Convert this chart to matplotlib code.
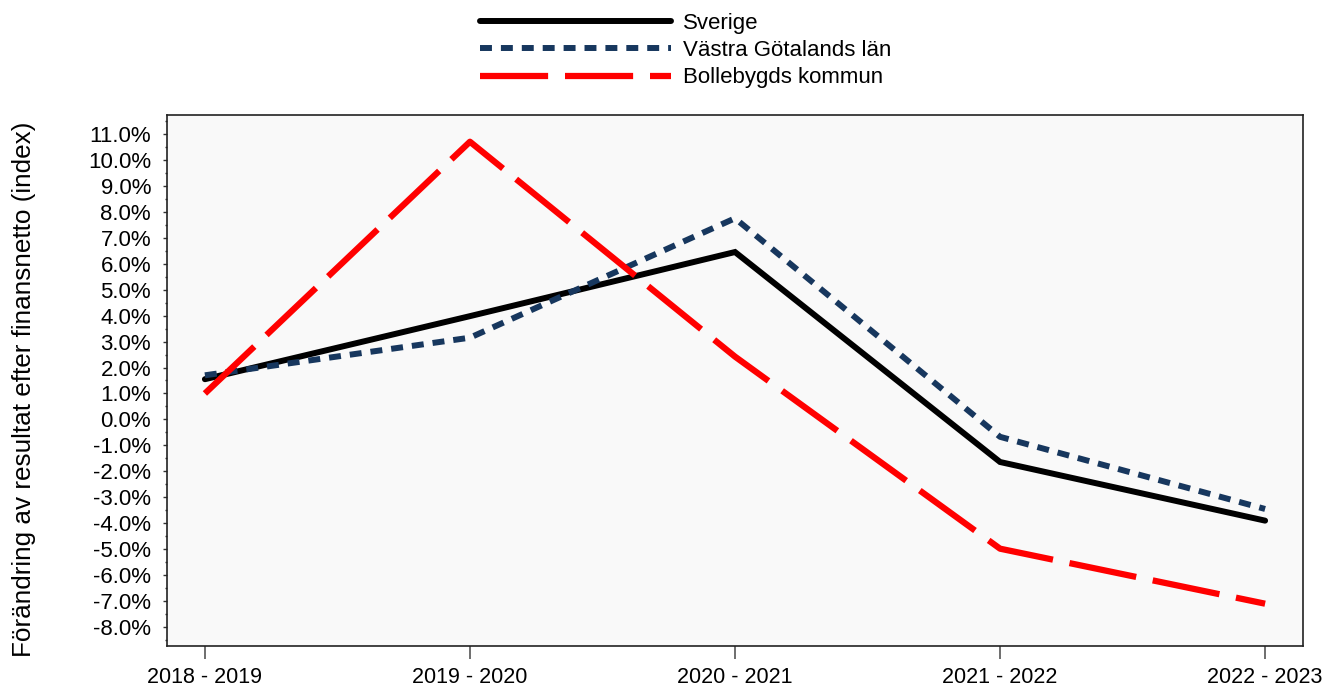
import numpy as np
import matplotlib.pyplot as plt
from matplotlib.ticker import FuncFormatter, MultipleLocator

plt.rcParams['font.family'] = ['Liberation Sans', 'DejaVu Sans']

perioder = ['2018 - 2019', '2019 - 2020', '2020 - 2021', '2021 - 2022', '2022 - 2023']
sverige = [1.55, 3.98, 6.45, -1.64, -3.9]
vastra_gotaland = [1.7, 3.15, 7.75, -0.67, -3.45]
bollebygd = [1.0, 10.7, 2.42, -4.98, -7.1]

def paint():
    fig = plt.figure(figsize=(13.31, 6.96), dpi=100)
    ax = fig.add_axes([167/1331, 1 - 646/696, (1303 - 167)/1331, (646 - 115)/696])
    ax.set_facecolor('#f9f9f9')
    x = np.arange(len(perioder))

    ax.plot(x, sverige, color='black', lw=4.3, solid_capstyle='round',
            solid_joinstyle='miter', label='Sverige')
    ax.plot(x, vastra_gotaland, color='#17375e', lw=4.3, dashes=(2.0, 1.5),
            label='Västra Götalands län')
    ax.plot(x, bollebygd, color='#ff0000', lw=4.5, dashes=(10.9, 2.7),
            label='Bollebygds kommun')

    ax.set_xlim(-0.143, 4.143)
    ax.set_ylim(-8.73, 11.73)
    ax.set_xticks(x)
    ax.set_xticklabels(perioder)
    ax.yaxis.set_major_locator(MultipleLocator(1))
    ax.yaxis.set_minor_locator(MultipleLocator(0.5))
    ax.yaxis.set_major_formatter(FuncFormatter(lambda v, p: f'{v:.1f}%'))

    ax.tick_params(axis='x', length=9.4, width=1.2, color='#555555', pad=6, labelsize=15.5)
    ax.tick_params(axis='y', which='major', length=3, width=1, color='#333333', pad=8.5, labelsize=16)
    ax.tick_params(axis='y', which='minor', length=1.5, width=1, color='#333333')
    for s in ax.spines.values():
        s.set_color('#222222')
        s.set_linewidth(1.2)

    ax.set_ylabel('Förändring av resultat efter finansnetto (index)', fontsize=18.8)
    ax.yaxis.set_label_coords(-0.115, 0.483)

    fig.legend(loc='upper left', bbox_to_anchor=(480/1331, 1 - 13/696), frameon=False,
               fontsize=16, handlelength=8.6, handletextpad=0.55, labelspacing=0.28,
               borderpad=0, borderaxespad=0)
    plt.savefig('out.png', dpi=100)

if __name__ == "__main__":
    paint()
